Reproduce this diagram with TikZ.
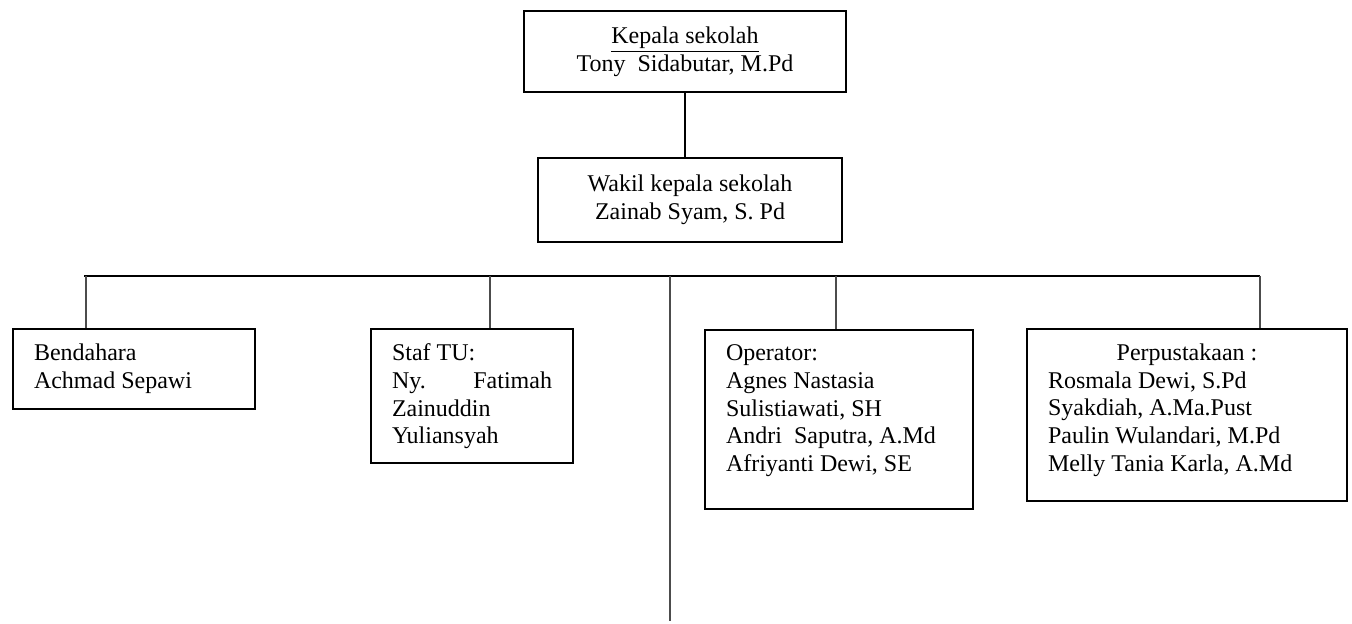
\documentclass[tikz,border=0pt]{standalone}
\usepackage{fontspec}
\setmainfont{Liberation Serif}
\usetikzlibrary{positioning}
\newcommand{\boxlines}[3]{\parbox[t][#2][t]{#1}{#3}}

\begin{document}
\begin{tikzpicture}[
    x=0.5pt, y=-0.5pt,
    box/.style={rectangle, draw=black, line width=1pt, font=\fontsize{12}{13.8}\selectfont},
    staffbox/.style={box, anchor=north west, inner xsep=10.5pt, inner ysep=7.5pt},
    link/.style={draw=black!70, line width=0.75pt}
]
\useasboundingbox (0,0) rectangle (1352,624);
\node[box, minimum width=161pt, minimum height=40.5pt, align=center] (kepala) at (685,51.5) {\underline{Kepala sekolah}\\Tony\ \ Sidabutar, M.Pd};
\node[box, minimum width=152pt, minimum height=42pt, align=center] (wakil) at (690,200) {Wakil kepala sekolah\\Zainab Syam, S. Pd};
\draw[line width=1pt] (kepala.south) -- (kepala.south |- wakil.north);

\node[staffbox] (bend) at (12,328) {\boxlines{100pt}{25pt}{Bendahara\\Achmad Sepawi}};
\node[staffbox] (staf) at (370,328) {\boxlines{80pt}{52pt}{Staf TU:\\Ny.\hfill Fatimah\\Zainuddin\\Yuliansyah}};
\node[staffbox] (oper) at (704,329) {\boxlines{113pt}{74.5pt}{Operator:\\Agnes Nastasia\\Sulistiawati, SH\\Andri\ \ Saputra, A.Md\\Afriyanti Dewi, SE}};
\node[staffbox] (perp) at (1026,328) {\boxlines{139pt}{71pt}{\hspace*{\fill}Perpustakaan :\hspace*{\fill}\\Rosmala Dewi, S.Pd\\Syakdiah, A.Ma.Pust\\Paulin Wulandari, M.Pd\\Melly Tania Karla, A.Md}};

\coordinate (busL) at (84,276);
\coordinate (busR) at (1260,276);
\draw[line width=1pt] (busL) -- (busR);
\foreach \xpos/\target in {86/bend, 490/staf, 836/oper, 1260/perp} {
    \coordinate (top-\target) at (\xpos,276);
    \draw[link] (top-\target) -- (top-\target |- \target.north);
}
\coordinate (midtop) at (670,276);
\coordinate (midend) at (670,621);
\draw[link] (midtop) -- (midend);
\end{tikzpicture}
\end{document}
